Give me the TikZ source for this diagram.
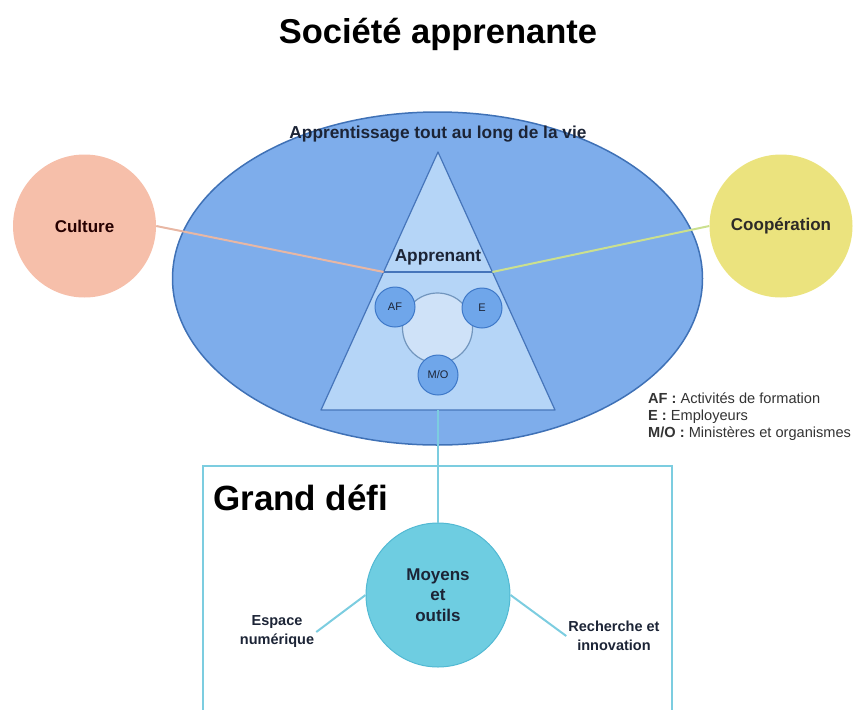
\documentclass[tikz,border=0pt]{standalone}
\usepackage{fontspec}
\setmainfont{Liberation Sans}
\usepackage{tikz}
\usetikzlibrary{positioning, shapes.geometric, calc}
\usepackage{xcolor}
\definecolor{lifefill}{HTML}{7EADEB}
\definecolor{lifeline}{HTML}{3F71B6}
\definecolor{trifill}{HTML}{B5D5F7}
\definecolor{triline}{HTML}{4675BA}
\definecolor{ringfill}{HTML}{CFE2F8}
\definecolor{ringline}{HTML}{7296BE}
\definecolor{actfill}{HTML}{6FA6EA}
\definecolor{actline}{HTML}{3E78C8}
\definecolor{culturefill}{HTML}{F6BFAA}
\definecolor{cultureline}{HTML}{E8B7A4}
\definecolor{coopfill}{HTML}{EBE37E}
\definecolor{coopline}{HTML}{CBE08E}
\definecolor{toolfill}{HTML}{6ECDE1}
\definecolor{toolline}{HTML}{52B9D3}
\definecolor{framecol}{HTML}{7CCDE0}
\definecolor{navy}{HTML}{1C2436}

\begin{document}
\begin{tikzpicture}[
  x=1pt, y=-1pt,
  bubble/.style={circle, inner sep=0pt, minimum size=143pt, align=center, font=\fontsize{17}{20.5}\selectfont\bfseries},
  actor/.style={circle, draw=actline, fill=actfill, line width=1pt, minimum size=40pt, inner sep=0pt, text=navy, font=\fontsize{11}{12}\selectfont},
  label/.style={align=center, inner sep=2pt, text=navy, font=\fontsize{14.5}{19}\selectfont\bfseries},
  legend/.style={anchor=west, inner sep=0pt, text height=10.5pt, text depth=3pt, text=black!80, font=\fontsize{14.6}{17}\selectfont},
  link/.style={line width=2pt},
  frame/.style={draw=framecol, line width=2pt}
]
\useasboundingbox (0,0) rectangle (855,710);

% Title
\node[anchor=base, font=\fontsize{34.5}{40}\selectfont\bfseries] (title) at (438,43) {Société apprenante};

% Lifelong learning ellipse
\node[ellipse, draw=lifeline, fill=lifefill, line width=1.5pt, minimum width=530pt, minimum height=333pt, inner sep=0pt] (vie) at (437.5,278.5) {};
\node[anchor=base, text=navy, font=\fontsize{17.3}{20}\selectfont\bfseries] (vietxt) at (438,138) {Apprentissage tout au long de la vie};

% Learner triangle
\coordinate (apex) at (438,152);
\coordinate (baseL) at (321,410);
\coordinate (baseR) at (555,410);
\coordinate (baseM) at ($(baseL)!0.5!(baseR)$);
\coordinate (divL) at ($(apex)!0.465!(baseL)$);
\coordinate (divR) at ($(apex)!0.465!(baseR)$);
\draw[draw=triline, fill=trifill, line width=1.2pt, line join=round] (apex) -- (baseL) -- (baseR) -- cycle;
\draw[draw=triline, line width=1.2pt] (divL) -- (divR);
\node[anchor=base, text=navy, font=\fontsize{17.3}{20}\selectfont\bfseries] (apprenant) at (438,261) {Apprenant};

% Actors around the ring
\node[circle, draw=ringline, fill=ringfill, line width=1.2pt, minimum size=70pt, inner sep=0pt] (ring) at (437.5,328) {};
\node[actor] (af) at (395,307) {AF};
\node[actor] (e) at (482,308) {E};
\node[actor] (mo) at (438,375) {M/O};

% Side circles
\node[bubble, fill=culturefill, text=black!85!red] (culture) at (84.5,226) {Culture};
\node[bubble, fill=coopfill, text=black!90!olive] (coop) at (781,226) {Coopération};

\draw[link, cultureline] (culture.east) -- (divL);
\draw[link, coopline] (coop.west) -- (divR);

% Legend
\node[legend] (legaf) at (648,400) {\textbf{AF :} Activités de formation};
\node[legend] (lege) at (648,417) {\textbf{E :} Employeurs};
\node[legend] (legmo) at (648,434) {\textbf{M/O :} Ministères et organismes};

% Grand challenge frame
\draw[frame] (203,715) |- (672,466) -- (672,715);
\node[anchor=west, inner sep=0pt, font=\fontsize{35}{40}\selectfont\bfseries] (defi) at (213,498) {Grand défi};

\node[bubble, draw=toolline, fill=toolfill, line width=1pt, minimum size=144pt, text=navy] (moyens) at (438,595) {Moyens\\et\\outils};
\node[label] (espace) at (277,632) {Espace\\numérique};
\node[label] (recherche) at (614,636) {Recherche et\\innovation};

\draw[link, framecol] (baseM) -- (moyens.north);
\draw[link, framecol] (moyens.west) -- (espace.east);
\draw[link, framecol] (moyens.east) -- (recherche.west);

\end{tikzpicture}
\end{document}
